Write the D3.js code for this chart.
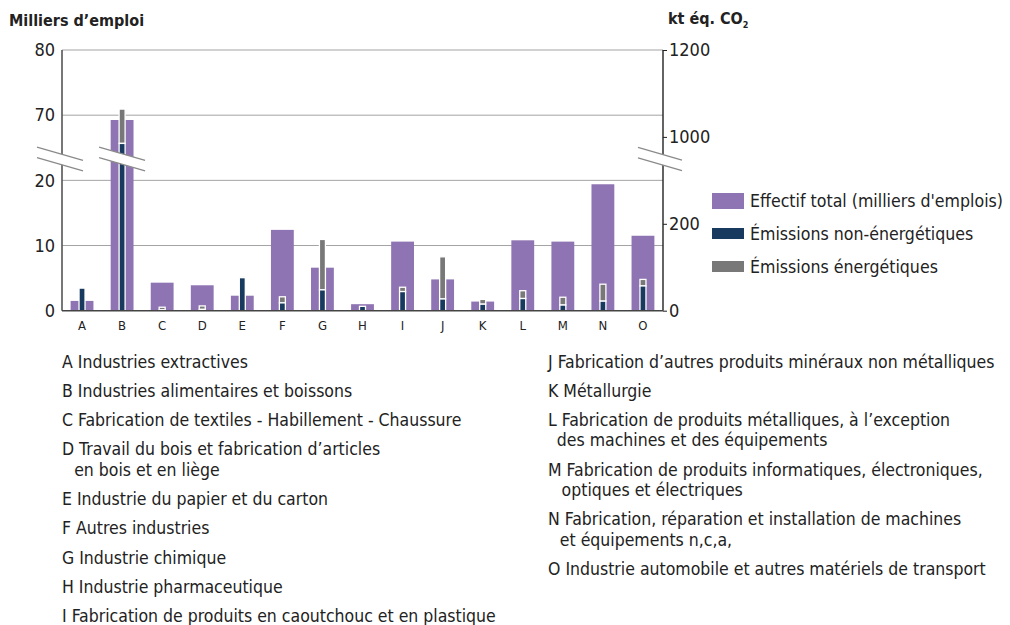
<!DOCTYPE html>
<html>
<head>
<meta charset="utf-8">
<script src="https://cdn.jsdelivr.net/npm/d3@7"></script>
<style>
  body { margin: 0; background: #fff; }
  text { font-family: "Liberation Sans Narrow", "Arial Narrow", "DejaVu Sans Condensed", sans-serif; fill: #222; }
</style>
</head>
<body>
<svg id="chart" width="1010" height="625"></svg>
<script>
// Secteurs industriels (codes)
const categories = ["A","B","C","D","E","F","G","H","I","J","K","L","M","N","O"];
// Effectif total, milliers d'emplois (axe gauche)
const effectif = [1.5, 66.3, 4.3, 3.9, 2.3, 12.4, 6.6, 1.0, 10.6, 4.8, 1.4, 10.8, 10.6, 19.4, 11.5];
// Émissions, kt éq. CO2 (axe droit)
const emissionsNonEnergetiques = [52, 940, 2, 3, 76, 18, 48, 10, 44, 27, 15, 28, 13, 22, 57];
const emissionsEnergetiques    = [0, 124, 6, 8, 2, 14, 116, 0, 10, 97, 11, 18, 18, 39, 15];
// Graduations (axes interrompus)
const leftTicks  = [0, 10, 20, 70, 80];
const rightTicks = [0, 200, 1000, 1200];
const legendLabels = ["Effectif total (milliers d'emplois)", "Émissions non-énergétiques", "Émissions énergétiques"];
const descriptionsLeft = [
  ["A", ["Industries extractives"]],
  ["B", ["Industries alimentaires et boissons"]],
  ["C", ["Fabrication de textiles - Habillement - Chaussure"]],
  ["D", ["Travail du bois et fabrication d’articles", "en bois et en liège"]],
  ["E", ["Industrie du papier et du carton"]],
  ["F", ["Autres industries"]],
  ["G", ["Industrie chimique"]],
  ["H", ["Industrie pharmaceutique"]],
  ["I", ["Fabrication de produits en caoutchouc et en plastique"]]
];
const descriptionsRight = [
  ["J", ["Fabrication d’autres produits minéraux non métalliques"]],
  ["K", ["Métallurgie"]],
  ["L", ["Fabrication de produits métalliques, à l’exception", "des machines et des équipements"]],
  ["M", ["Fabrication de produits informatiques, électroniques,", "optiques et électriques"]],
  ["N", ["Fabrication, réparation et installation de machines", "et équipements n,c,a,"]],
  ["O", ["Industrie automobile et autres matériels de transport"]]
];

const colors = { effectif: "#8f74b3", nonEnergie: "#173a5e", energie: "#787878" };

const svg = d3.select("#chart");
const plot = { left: 62, right: 663, top: 50, bottom: 310.7 };
const step = (plot.bottom - plot.top);

// Échelles linéaires par morceaux pour les axes interrompus
const yLeft = d3.scaleLinear()
  .domain(leftTicks)
  .range(leftTicks.map((d, i) => plot.bottom - i * step / (leftTicks.length - 1)));
const yRight = d3.scaleLinear()
  .domain(rightTicks)
  .range(rightTicks.map((d, i) => plot.bottom - i * step / (rightTicks.length - 1)));
const x = d3.scaleBand().domain(categories).range([plot.left, plot.right]).paddingInner(0.43).paddingOuter(0.215);

// Grille
svg.append("g").selectAll("line")
  .data(leftTicks.filter(d => d > 0))
  .join("line")
  .attr("x1", plot.left).attr("x2", plot.right)
  .attr("y1", d => yLeft(d)).attr("y2", d => yLeft(d))
  .attr("stroke", "#a3a3a3").attr("stroke-width", 1);

// Effectif total
svg.append("g").selectAll("rect")
  .data(categories)
  .join("rect")
  .attr("x", d => x(d))
  .attr("width", x.bandwidth())
  .attr("y", (d, i) => yLeft(effectif[i]))
  .attr("height", (d, i) => plot.bottom - yLeft(effectif[i]))
  .attr("fill", colors.effectif);

// Émissions empilées : non-énergétiques puis énergétiques
const ew = 6;
const em = svg.append("g");
categories.forEach((c, i) => {
  const cx = x(c) + x.bandwidth() / 2;
  const n = emissionsNonEnergetiques[i], e = emissionsEnergetiques[i];
  if (e > 0) {
    em.append("rect")
      .attr("x", cx - ew / 2).attr("width", ew)
      .attr("y", yRight(n + e)).attr("height", yRight(n) - yRight(n + e))
      .attr("fill", colors.energie).attr("stroke", "#fff").attr("stroke-width", 1.3);
  }
  em.append("rect")
    .attr("x", cx - ew / 2).attr("width", ew)
    .attr("y", yRight(n)).attr("height", plot.bottom - yRight(n))
    .attr("fill", colors.nonEnergie).attr("stroke", "#fff").attr("stroke-width", 1.3);
});

// Axes
svg.append("line").attr("x1", plot.left).attr("x2", plot.left).attr("y1", plot.top).attr("y2", plot.bottom)
  .attr("stroke", "#555").attr("stroke-width", 1.6);
svg.append("line").attr("x1", plot.right).attr("x2", plot.right).attr("y1", plot.top).attr("y2", plot.bottom)
  .attr("stroke", "#222").attr("stroke-width", 1.4);
svg.append("line").attr("x1", plot.left).attr("x2", plot.right).attr("y1", plot.bottom).attr("y2", plot.bottom)
  .attr("stroke", "#444").attr("stroke-width", 1.6);

const axL = d3.axisLeft(yLeft).tickValues(leftTicks).tickFormat(d3.format("d")).tickSize(0).tickPadding(7);
const gL = svg.append("g").attr("transform", `translate(${plot.left},0)`).call(axL);
gL.select(".domain").remove();
gL.selectAll("text").attr("font-size", 18).style("font-family", null);

const axR = d3.axisRight(yRight).tickValues(rightTicks).tickFormat(d3.format("d")).tickSize(4).tickPadding(2);
const gR = svg.append("g").attr("transform", `translate(${plot.right},0)`).call(axR);
gR.select(".domain").remove();
gR.selectAll("line").attr("stroke", "#222");
gR.selectAll("text").attr("font-size", 18).style("font-family", null);

const axX = d3.axisBottom(x).tickSize(0).tickPadding(10);
const gX = svg.append("g").attr("transform", `translate(0,${plot.bottom})`).call(axX);
gX.select(".domain").remove();
gX.selectAll("text").attr("font-size", 13).attr("fill", "#333").style("font-family", null);

// Marques d'interruption des axes
function breakMark(cx, cy, half) {
  const slope = 0.29, gap = 10.5;
  const x0 = cx - half, x1 = cx + half;
  const y0 = cy - slope * half, y1 = cy + slope * half;
  const g = svg.append("g");
  g.append("polygon")
    .attr("points", `${x0},${y0 - gap / 2} ${x1},${y1 - gap / 2} ${x1},${y1 + gap / 2} ${x0},${y0 + gap / 2}`)
    .attr("fill", "#fff");
  [-gap / 2, gap / 2].forEach(o => g.append("line")
    .attr("x1", x0).attr("y1", y0 + o).attr("x2", x1).attr("y2", y1 + o)
    .attr("stroke", "#8a8a8a").attr("stroke-width", 1.2));
}
breakMark(plot.left - 2, 159, 23);
breakMark(x("B") + x.bandwidth() / 2, 159, 23);
breakMark(plot.right - 3, 159, 22);

// Titres des axes
svg.append("text").attr("x", 9).attr("y", 26).attr("font-size", 16).attr("font-weight", "bold")
  .text("Milliers d’emploi");
const tR = svg.append("text").attr("x", 668).attr("y", 24).attr("font-size", 16).attr("font-weight", "bold");
tR.append("tspan").text("kt éq. CO");
tR.append("tspan").attr("font-size", 9).attr("dy", 4).text("2");

// Légende
const legendItems = [
  { label: legendLabels[0], color: colors.effectif, y: 193, h: 16, ty: 207 },
  { label: legendLabels[1], color: colors.nonEnergie, y: 228, h: 11, ty: 240 },
  { label: legendLabels[2], color: colors.energie, y: 261, h: 11, ty: 273 }
];
const lg = svg.append("g");
legendItems.forEach(d => {
  lg.append("rect").attr("x", 712).attr("y", d.y).attr("width", 32).attr("height", d.h).attr("fill", d.color);
  lg.append("text").attr("x", 750).attr("y", d.ty).attr("font-size", 17.6).text(d.label);
});

// Liste des secteurs
function descColumn(items, x0, y0) {
  let y = y0;
  items.forEach(([code, lines]) => {
    svg.append("text").attr("x", x0).attr("y", y).attr("font-size", 17.5).text(code + " " + lines[0]);
    const probe = svg.append("text").attr("font-size", 17.5).attr("x", -100).attr("y", -100).text(code + " ");
    const indent = probe.node().getComputedTextLength();
    probe.remove();
    lines.slice(1).forEach((l, k) => {
      svg.append("text").attr("x", x0 + indent).attr("y", y + 20.3 * (k + 1)).attr("font-size", 17.5).text(l);
    });
    y += 29.3 + 20.3 * (lines.length - 1);
  });
}
descColumn(descriptionsLeft, 62, 367.5);
descColumn(descriptionsRight, 548, 367.5);
</script>
</body>
</html>
